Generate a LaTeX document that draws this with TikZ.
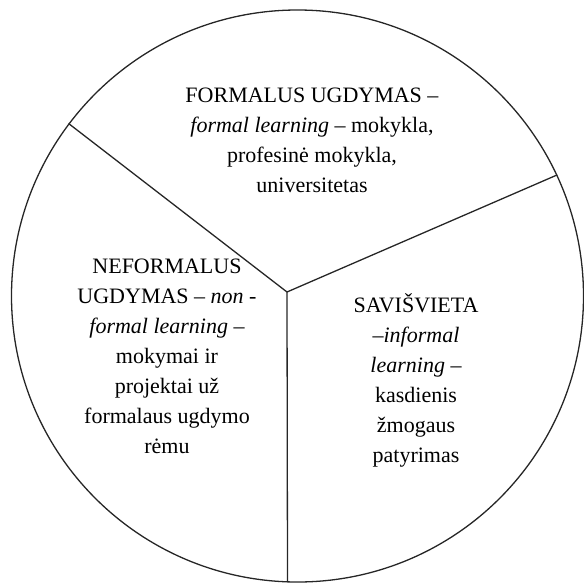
\documentclass[tikz,border=0pt]{standalone}
\usepackage{fontspec}
\setmainfont{Liberation Serif}
\tikzset{sector text/.style={
    align=center, inner sep=0pt,
    font=\fontsize{22}{30}\selectfont,
}}

\begin{document}
\begin{tikzpicture}[x=1pt, y=-1pt, line width=1.3pt, draw=black!85]
\useasboundingbox (0,0) rectangle (584,582);
\node[name=disc, shape=circle, draw, minimum size=572pt, inner sep=0pt] at (297.5,296) {};
\coordinate (hub) at (287,292);
\foreach \angle in {143, 25, 268}
  \draw (hub) -- (disc.\angle);
\node[name=formal, sector text] at (312,140)
  {FORMALUS UGDYMAS –\\ \textit{formal learning} – mokykla,\\ profesinė mokykla,\\ universitetas};
\node[name=nonformal, sector text] at (167,356)
  {NEFORMALUS\\ UGDYMAS – \textit{non} -\\ \textit{formal learning} –\\ mokymai ir\\ projektai už\\ formalaus ugdymo\\ rėmu};
\node[name=informal, sector text] at (416,380)
  {SAVIŠVIETA\\ –\textit{informal}\\ \textit{learning} –\\ kasdienis\\ žmogaus\\ patyrimas};
\end{tikzpicture}
\end{document}
